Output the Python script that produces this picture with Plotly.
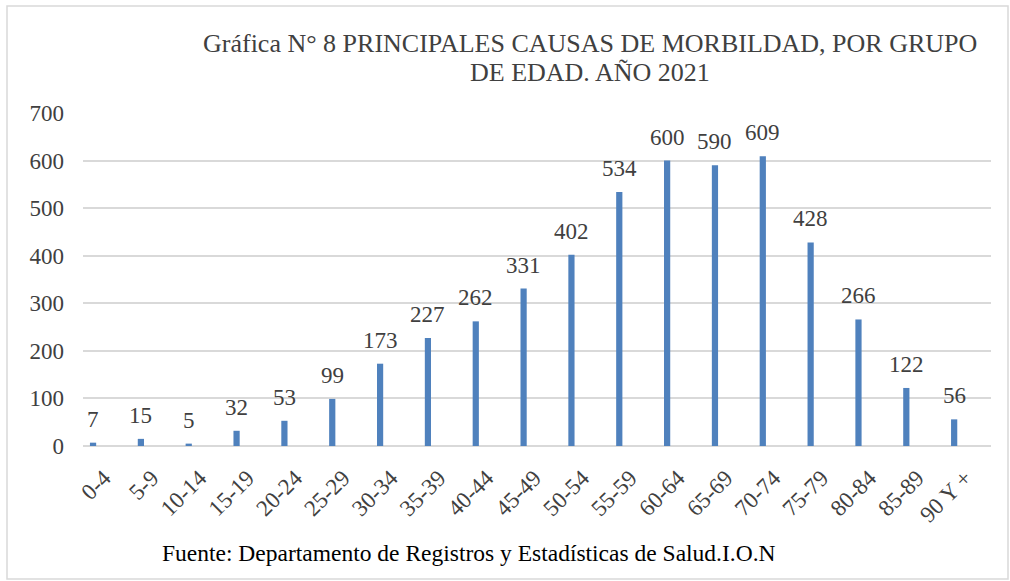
import plotly.graph_objects as go

categories = ["0-4", "5-9", "10-14", "15-19", "20-24", "25-29", "30-34", "35-39",
              "40-44", "45-49", "50-54", "55-59", "60-64", "65-69", "70-74", "75-79",
              "80-84", "85-89", "90 Y +"]
values = [7, 15, 5, 32, 53, 99, 173, 227, 262, 331, 402, 534, 600, 590, 609, 428, 266, 122, 56]
y_ticks = [0, 100, 200, 300, 400, 500, 600, 700]

title_line1 = "Gráfica N° 8 PRINCIPALES CAUSAS DE MORBILDAD, POR GRUPO"
title_line2 = "DE EDAD. AÑO 2021"
source_text = "Fuente: Departamento de Registros y Estadísticas de Salud.I.O.N"

W, H = 1010, 581
L, R, T, B = 83, 19, 113, 135
pw, ph = W - L - R, H - T - B

def px(x):
    return (x - L) / pw

def py(y):
    return (H - B - y) / ph

FONT = "Liberation Serif"
GRAY = "#404040"

fig = go.Figure()
fig.add_trace(go.Bar(
    x=list(range(len(categories))), y=values,
    width=0.13, marker=dict(color="#4F81BD", line=dict(width=0)),
    hoverinfo="skip",
))

annotations = []
for i, v in enumerate(values):
    annotations.append(dict(x=i, y=v, xref="x", yref="y", text=str(v), showarrow=False,
                            yanchor="bottom", xanchor="center", yshift=9,
                            font=dict(family=FONT, size=23, color=GRAY)))

annotations.append(dict(x=px(590), y=py(43), xref="paper", yref="paper", text=title_line1,
                        showarrow=False, xanchor="center", yanchor="middle",
                        font=dict(family=FONT, size=26, color=GRAY)))
annotations.append(dict(x=px(590), y=py(72), xref="paper", yref="paper", text=title_line2,
                        showarrow=False, xanchor="center", yanchor="middle",
                        font=dict(family=FONT, size=26, color=GRAY)))
annotations.append(dict(x=px(469), y=py(553), xref="paper", yref="paper", text=source_text,
                        showarrow=False, xanchor="center", yanchor="middle",
                        font=dict(family=FONT, size=23.5, color="#000000")))

fig.update_layout(
    width=W, height=H,
    margin=dict(l=L, r=R, t=T, b=B),
    paper_bgcolor="white", plot_bgcolor="white",
    showlegend=False,
    font=dict(family=FONT),
    annotations=annotations,
    shapes=[dict(type="rect", xref="paper", yref="paper",
                 x0=px(7), x1=px(1008), y0=py(579), y1=py(6),
                 line=dict(color="#D9D9D9", width=1.5), layer="below")],
    xaxis=dict(
        range=[-0.21, 18.77],
        tickmode="array", tickvals=list(range(len(categories))), ticktext=categories,
        tickangle=-45, showgrid=False, zeroline=False, showline=False, ticks="",
        tickfont=dict(family=FONT, size=23, color=GRAY),
        ticklabelstandoff=13, ticklabelshift=11,
    ),
    yaxis=dict(
        range=[0, 700], tickmode="array", tickvals=y_ticks,
        showgrid=True, gridcolor="#D9D9D9", gridwidth=1.5,
        zeroline=True, zerolinecolor="#D9D9D9", zerolinewidth=1.5,
        showline=False, ticks="",
        tickfont=dict(family=FONT, size=23, color=GRAY),
        ticklabelstandoff=18,
    ),
)

fig.write_html("out.html", config={"displayModeBar": False},
               post_script="document.body.style.margin='0';")
